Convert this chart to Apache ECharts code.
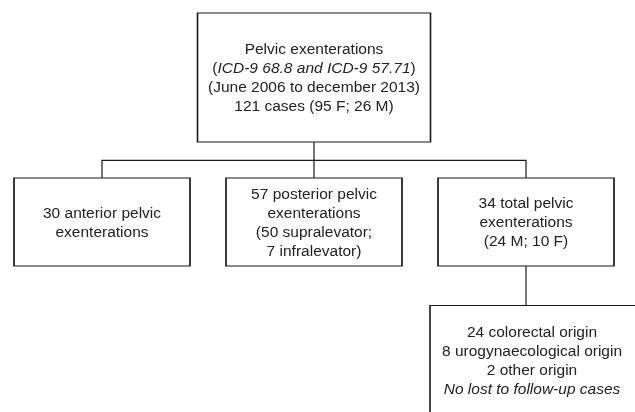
<!DOCTYPE html>
<html>
<head>
<meta charset="utf-8">
<script src="https://cdn.jsdelivr.net/npm/echarts@6/dist/echarts.min.js"></script>
<style>html,body{margin:0;padding:0;background:#fff;}#c{width:635px;height:412px;}</style>
</head>
<body>
<div id="c"></div>
<script>
// Flowchart content (text lines per box); "i" marks italic segments
const rootLines = [
  [["", "Pelvic exenterations"]],
  [["", "("], ["i", "ICD-9 68.8 and ICD-9 57.71"], ["", ")"]],
  [["", "(June 2006 to december 2013)"]],
  [["", "121 cases (95 F; 26 M)"]]
];
const anteriorLines = [[["", "30 anterior pelvic"]], [["", "exenterations"]]];
const posteriorLines = [
  [["", "57 posterior pelvic"]],
  [["", "exenterations"]],
  [["", "(50 supralevator;"]],
  [["", "7 infralevator)"]]
];
const totalLines = [[["", "34 total pelvic"]], [["", "exenterations"]], [["", "(24 M; 10 F)"]]];
const originLines = [
  [["", "24 colorectal origin"]],
  [["", "8 urogynaecological origin"]],
  [["", "2 other origin"]],
  [["i", "No lost to follow-up cases"]]
];

function toRich(lines) {
  return lines.map(function (segs) {
    return segs.map(function (s) {
      const txt = s[1].replace(/[{}|]/g, '');
      return '{' + (s[0] === 'i' ? 'i' : 'n') + '|' + txt + '}';
    }).join('');
  }).join('\n');
}

const FONT = '"Liberation Sans", Arial, Helvetica, sans-serif';
const FS = 15.5;
const LH = 19;
const rich = {
  n: { fontFamily: FONT, fontSize: FS, lineHeight: LH, color: '#222', fontStyle: 'normal' },
  i: { fontFamily: FONT, fontSize: FS, lineHeight: LH, color: '#222', fontStyle: 'italic' }
};

function node(name, lines, size, extra, showBox) {
  const o = {
    name: name,
    symbolSize: size,
    label: {
      show: showBox,
      position: 'inside',
      formatter: toRich(lines),
      rich: rich,
      offset: (extra && extra.labelOffset) || [0, 1]
    }
  };
  if (extra && extra.symbolOffset) o.symbolOffset = extra.symbolOffset;
  return o;
}

function buildTree(showBox) {
  const root = node('root', rootLines, [233, 129], null, showBox);
  const a = node('anterior', anteriorLines, [176, 88], null, showBox);
  const p = node('posterior', posteriorLines, [176, 88], null, showBox);
  const t = node('total', totalLines, [176, 88], null, showBox);
  const o = node('origin', originLines, [220, 122], { symbolOffset: [14, 0], labelOffset: [-8, -5] }, showBox);
  t.children = [o];
  root.children = [a, p, t];
  return root;
}

const common = {
  type: 'tree',
  orient: 'TB',
  layout: 'orthogonal',
  edgeShape: 'polyline',
  edgeForkPosition: '57.4%',
  left: -4,
  width: 636,
  top: 77.5,
  height: 289,
  symbol: 'rect',
  roam: false,
  expandAndCollapse: false,
  initialTreeDepth: -1,
  animation: false,
  emphasis: { disabled: true },
  silent: true
};

const chart = echarts.init(document.getElementById('c'), null, { renderer: 'canvas' });
chart.setOption({
  backgroundColor: '#ffffff',
  animation: false,
  series: [
    Object.assign({}, common, {
      z: 1,
      data: [buildTree(false)],
      itemStyle: { color: 'rgba(0,0,0,0)', borderWidth: 0 },
      lineStyle: { color: '#1a1a1a', width: 1.2, curveness: 0 },
      label: { show: false },
      leaves: { label: { show: false } }
    }),
    Object.assign({}, common, {
      z: 2,
      data: [buildTree(true)],
      itemStyle: { color: '#ffffff', borderColor: '#1a1a1a', borderWidth: 1.2 },
      lineStyle: { width: 0, opacity: 0 },
      label: { show: true, position: 'inside', align: 'center', verticalAlign: 'middle' },
      leaves: { label: { show: true, position: 'inside', align: 'center', verticalAlign: 'middle' } }
    })
  ]
});
</script>
</body>
</html>
